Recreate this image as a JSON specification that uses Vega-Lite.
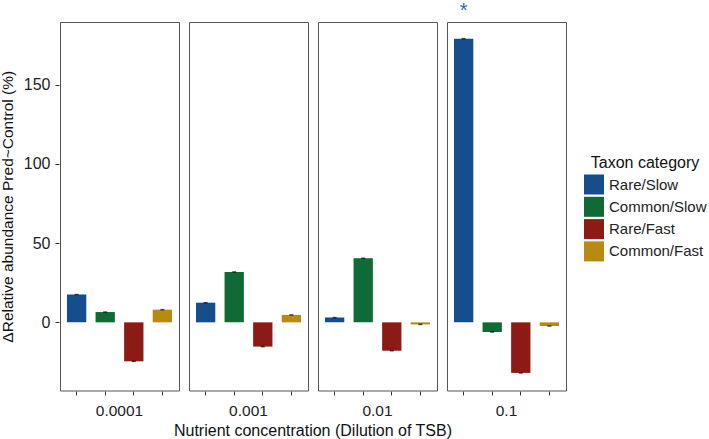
{
  "$schema": "https://vega.github.io/schema/vega-lite/v6.json",
  "padding": {"left": 0, "top": 0, "right": 5, "bottom": 0},
  "background": "white",
  "data": {"values": [
    {"conc": "0.0001", "taxon": "Rare/Slow", "value": 17.5, "sig": ""},
    {"conc": "0.0001", "taxon": "Common/Slow", "value": 6.5, "sig": ""},
    {"conc": "0.0001", "taxon": "Rare/Fast", "value": -24.6, "sig": ""},
    {"conc": "0.0001", "taxon": "Common/Fast", "value": 8.0, "sig": ""},
    {"conc": "0.001", "taxon": "Rare/Slow", "value": 12.4, "sig": ""},
    {"conc": "0.001", "taxon": "Common/Slow", "value": 31.8, "sig": ""},
    {"conc": "0.001", "taxon": "Rare/Fast", "value": -15.3, "sig": ""},
    {"conc": "0.001", "taxon": "Common/Fast", "value": 4.7, "sig": ""},
    {"conc": "0.01", "taxon": "Rare/Slow", "value": 3.0, "sig": ""},
    {"conc": "0.01", "taxon": "Common/Slow", "value": 40.4, "sig": ""},
    {"conc": "0.01", "taxon": "Rare/Fast", "value": -17.9, "sig": ""},
    {"conc": "0.01", "taxon": "Common/Fast", "value": -1.3, "sig": ""},
    {"conc": "0.1", "taxon": "Rare/Slow", "value": 179.0, "sig": "*"},
    {"conc": "0.1", "taxon": "Common/Slow", "value": -6.1, "sig": ""},
    {"conc": "0.1", "taxon": "Rare/Fast", "value": -31.9, "sig": ""},
    {"conc": "0.1", "taxon": "Common/Fast", "value": -2.3, "sig": ""}
  ]},
  "facet": {
    "column": {
      "field": "conc", "type": "ordinal", "sort": null,
      "title": "Nutrient concentration (Dilution of TSB)",
      "header": {
        "labelOrient": "bottom", "titleOrient": "bottom",
        "labelFontSize": 15.5, "labelFont": "Liberation Sans", "labelColor": "#222",
        "labelPadding": 8,
        "titleFontSize": 16, "titleFont": "Liberation Sans", "titleFontWeight": "normal", "titleColor": "#111",
        "titlePadding": -6
      }
    }
  },
  "spacing": 8,
  "spec": {
    "width": 119,
    "height": 368.5,
    "encoding": {
      "x": {
        "field": "taxon", "type": "nominal",
        "sort": ["Rare/Slow", "Common/Slow", "Rare/Fast", "Common/Fast"],
        "scale": {"paddingInner": 0.324, "paddingOuter": 0.244},
        "axis": {"labels": false, "title": null}
      }
    },
    "layer": [
      {
        "mark": {"type": "bar"},
        "encoding": {
          "y": {
            "field": "value", "type": "quantitative",
            "scale": {"domain": [-43, 189.5], "nice": false, "zero": false},
            "axis": {
              "values": [0, 50, 100, 150],
              "title": "ΔRelative abundance Pred~Control (%)"
            }
          },
          "color": {
            "field": "taxon", "type": "nominal",
            "sort": ["Rare/Slow", "Common/Slow", "Rare/Fast", "Common/Fast"],
            "scale": {"domain": ["Rare/Slow", "Common/Slow", "Rare/Fast", "Common/Fast"], "range": ["#164e8d", "#0f6a36", "#8c1b16", "#b88a12"]},
            "legend": {
              "title": "Taxon category",
              "orient": "none", "legendX": 524, "legendY": 133
            }
          }
        }
      },
      {
        "mark": {"type": "tick", "color": "black", "size": 4, "thickness": 1.5},
        "encoding": {"y": {"field": "value", "type": "quantitative"}}
      },
      {
        "mark": {"type": "rule", "color": "black", "strokeWidth": 1},
        "encoding": {"y": {"datum": 0}}
      },
      {
        "mark": {"type": "text", "color": "#2f6db5", "fontSize": 20, "font": "Liberation Sans", "baseline": "alphabetic"},
        "encoding": {
          "y": {"datum": 192.6},
          "text": {"field": "sig"}
        }
      }
    ]
  },
  "config": {
    "view": {"stroke": "#555", "strokeWidth": 1},
    "font": "Liberation Sans",
    "axisY": {
      "grid": false, "domain": false, "tickSize": 4, "tickColor": "#333",
      "labelFontSize": 16, "labelFont": "Liberation Sans", "labelColor": "#222", "labelPadding": 5,
      "titleFontSize": 15.5, "titleFont": "Liberation Sans", "titleFontWeight": "normal", "titleColor": "#111", "titlePadding": 7.5
    },
    "axisX": {"grid": false, "domain": false, "tickSize": 4, "tickColor": "#333", "labels": false},
    "header": {
      "labelFontSize": 15.5, "labelFont": "Liberation Sans", "labelColor": "#222",
      "titleFontSize": 16, "titleFont": "Liberation Sans", "titleFontWeight": "normal", "titleColor": "#111"
    },
    "legend": {
      "symbolType": "square", "symbolSize": 400, "symbolStrokeWidth": 0, "symbolOpacity": 1,
      "rowPadding": 2.3, "titleAnchor": "middle",
      "labelFontSize": 15, "labelFont": "Liberation Sans", "labelColor": "#222", "labelOffset": 5,
      "titleFontSize": 16, "titleFont": "Liberation Sans", "titleFontWeight": "normal", "titleColor": "#111", "titlePadding": 3.5
    }
  }
}
